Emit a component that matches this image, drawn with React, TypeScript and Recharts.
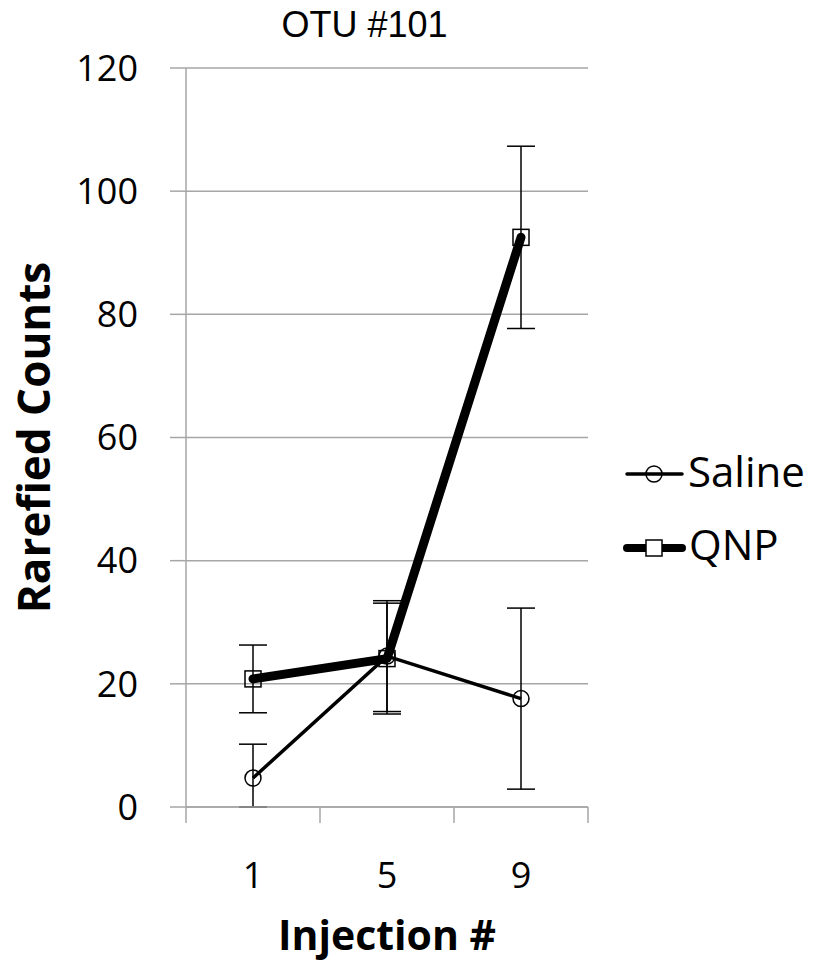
import {
  LineChart,
  Line,
  XAxis,
  YAxis,
  CartesianGrid,
  ErrorBar,
  Legend,
} from "recharts";

const injections = ["1", "5", "9"];
const salineMean = [4.7, 24.5, 17.6];
// [below, above]; the first bar is cut off by the axis at 0
const salineErr = [
  [4.7, 5.5],
  [9.0, 9.0],
  [14.7, 14.7],
];
const qnpMean = [20.8, 24.1, 92.5];
const qnpErr = [5.5, 9.0, 14.8];
const yTicks = [0, 20, 40, 60, 80, 100, 120];
const frameTicks = [0, 1, 2, 3];

const data = injections.map((inj, i) => ({
  inj,
  saline: salineMean[i],
  salineErr: salineErr[i],
  qnp: qnpMean[i],
  qnpErr: qnpErr[i],
}));

const FONT = "'Open Sans', 'Noto Sans', sans-serif";
const GRID = "#a6a6a6";

function CircleDot(props: any) {
  const { cx, cy, index } = props;
  if (cx == null || cy == null) return null;
  return <circle key={`c-${index}`} cx={cx} cy={cy} r={8} fill="none" stroke="#000" strokeWidth={1.5} />;
}

function SquareDot(props: any) {
  const { cx, cy, index } = props;
  if (cx == null || cy == null) return null;
  return <rect key={`s-${index}`} x={cx - 8} y={cy - 8} width={16} height={16} fill="none" stroke="#000" strokeWidth={1.5} />;
}

function LegendBox() {
  return (
    <svg width={194} height={150} style={{ overflow: "visible" }}>
      {/* Saline */}
      <line x1={7} y1={44} x2={62} y2={44} stroke="#000" strokeWidth={3.5} strokeLinecap="round" />
      <circle cx={34} cy={44} r={8} fill="none" stroke="#000" strokeWidth={1.5} />
      <text x={68} y={57} fontFamily={FONT} fontSize={42} fill="#000">Saline</text>
      {/* QNP */}
      <line x1={7} y1={118} x2={62} y2={118} stroke="#000" strokeWidth={8} strokeLinecap="round" />
      <rect x={26} y={110} width={16} height={16} fill="#fff" stroke="#000" strokeWidth={1.5} />
      <text x={69} y={130} fontFamily={FONT} fontSize={42} fill="#000">QNP</text>
    </svg>
  );
}

export default function App() {
  return (
    <div style={{ position: "absolute", left: 0, top: 0, width: 814, height: 964, background: "#fff" }}>
      <div
        style={{
          position: "absolute",
          left: 0,
          width: 729,
          top: 7,
          textAlign: "center",
          fontFamily: "'Liberation Sans', Arial, sans-serif",
          fontSize: 36,
          lineHeight: "36px",
          color: "#000",
          zIndex: 2,
        }}
      >
        OTU #101
      </div>
      <LineChart width={814} height={964} data={data} margin={{ top: 68, right: 226, bottom: 0, left: 0 }}>
        <CartesianGrid horizontal vertical={false} stroke={GRID} strokeWidth={1.5} />
        {/* boundary ticks between categories, as in the original */}
        <XAxis
          xAxisId="a0"
          dataKey="frame"
          type="number"
          domain={[0, 3]}
          ticks={frameTicks}
          tickFormatter={() => ""}
          tickSize={16}
          height={16}
          stroke={GRID}
          strokeWidth={1.5}
          allowDataOverflow
        />
        <XAxis
          xAxisId="b1"
          dataKey="inj"
          padding={{ left: 67, right: 67 }}
          axisLine={false}
          tickLine={false}
          tickSize={0}
          tickMargin={39}
          height={141}
          tick={{ fill: "#000", fontSize: 36, fontFamily: FONT }}
          label={{
            value: "Injection #",
            position: "insideBottom",
            offset: 14,
            fill: "#000",
            fontSize: 41,
            fontWeight: 700,
            fontFamily: FONT,
          }}
        />
        <YAxis
          type="number"
          domain={[0, 120]}
          ticks={yTicks}
          allowDataOverflow
          width={186}
          tickSize={16}
          tickMargin={32}
          stroke={GRID}
          strokeWidth={1.5}
          tick={{ fill: "#000", fontSize: 36, fontFamily: FONT }}
          label={{
            value: "Rarefied Counts",
            angle: -90,
            position: "insideLeft",
            offset: 34,
            textAnchor: "middle",
            fill: "#000",
            fontSize: 44,
            fontWeight: 700,
            fontFamily: FONT,
          }}
        />
        <Legend
          layout="vertical"
          align="center"
          verticalAlign="middle"
          content={() => <LegendBox />}
          wrapperStyle={{ left: 620, top: 430, width: 194, height: 150 }}
        />
        <Line
          xAxisId="b1"
          dataKey="saline"
          name="Saline"
          stroke="#000"
          strokeWidth={3.5}
          dot={CircleDot}
          activeDot={false}
          isAnimationActive={false}
        >
          <ErrorBar dataKey="salineErr" direction="y" width={14} stroke="#000" strokeWidth={1.5} />
        </Line>
        <Line
          xAxisId="b1"
          dataKey="qnp"
          name="QNP"
          stroke="#000"
          strokeWidth={9}
          strokeLinecap="round"
          strokeLinejoin="round"
          dot={SquareDot}
          activeDot={false}
          isAnimationActive={false}
        >
          <ErrorBar dataKey="qnpErr" direction="y" width={14} stroke="#000" strokeWidth={1.5} />
        </Line>
      </LineChart>
    </div>
  );
}
